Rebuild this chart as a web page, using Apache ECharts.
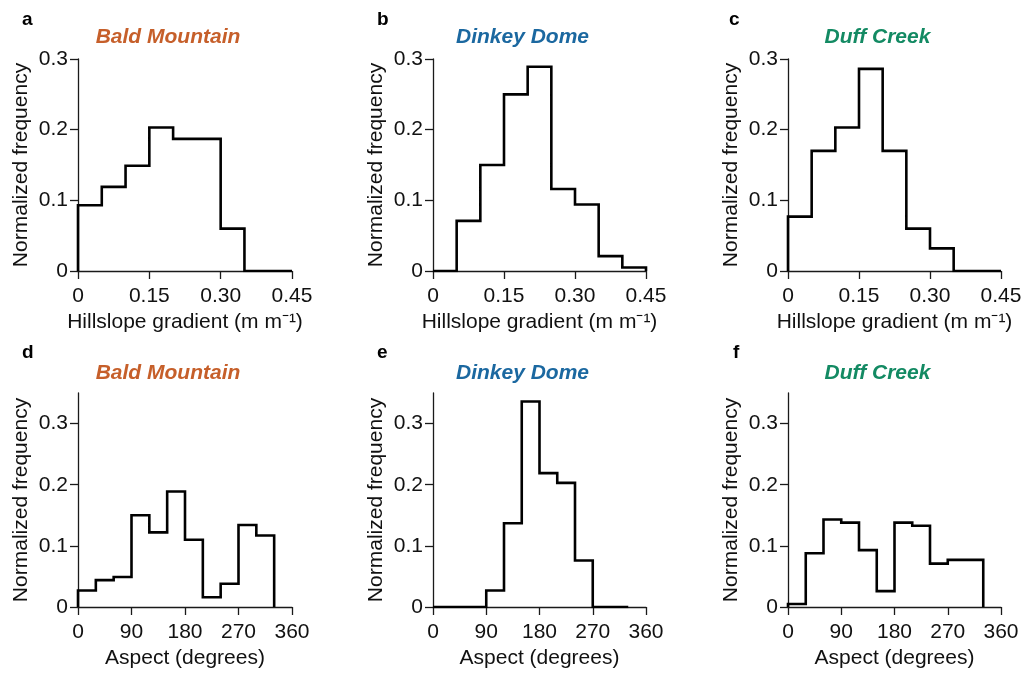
<!DOCTYPE html>
<html>
<head>
<meta charset="utf-8">
<script src="https://cdn.jsdelivr.net/npm/echarts@6/dist/echarts.min.js"></script>
<style>
html,body{margin:0;padding:0;background:#fff;}
#chart{width:1026px;height:674px;}
</style>
</head>
<body>
<div id="chart"></div>
<script>
// ---- Data ----
const sites = ['Bald Mountain', 'Dinkey Dome', 'Duff Creek'];
const panelLetters = ['a', 'b', 'c', 'd', 'e', 'f'];

// Hillslope gradient bins (m m^-1), bin edges
const gradientEdges = [0, 0.05, 0.10, 0.15, 0.20, 0.25, 0.30, 0.35, 0.40, 0.45];
const gradientTicks = [0, 0.15, 0.30, 0.45];
const baldGradient  = [0.093, 0.119, 0.149, 0.203, 0.187, 0.187, 0.060, 0, 0];
const dinkeyGradient = [0, 0.071, 0.150, 0.250, 0.289, 0.116, 0.094, 0.021, 0.005];
const duffGradient  = [0.077, 0.170, 0.203, 0.286, 0.170, 0.060, 0.032, 0, 0];

// Aspect bins (degrees), bin edges
const aspectEdges = [0, 30, 60, 90, 120, 150, 180, 210, 240, 270, 300, 330];
const aspectTicks = [0, 90, 180, 270, 360];
const baldAspect   = [0.027, 0.044, 0.049, 0.150, 0.122, 0.189, 0.110, 0.016, 0.038, 0.134, 0.117];
const dinkeyAspect = [0, 0, 0, 0.027, 0.137, 0.336, 0.219, 0.203, 0.076, 0, 0];
const duffAspect   = [0.005, 0.088, 0.143, 0.138, 0.093, 0.026, 0.138, 0.133, 0.071, 0.077, 0.077];

const topFreqTicks = [0, 0.1, 0.2, 0.3];
const bottomFreqTicks = [0, 0.1, 0.2, 0.3];

// ---- Styles ----
const FONT = "'Liberation Sans', Arial, Helvetica, sans-serif";
const siteColors = ['#c65f2a', '#1b68a0', '#138a63'];
const axisColor = '#1a1a1a';

function stairs(edges, values) {
  const pts = [[edges[0], 0]];
  for (let i = 0; i < values.length; i++) {
    pts.push([edges[i], values[i]]);
    pts.push([edges[i + 1], values[i]]);
  }
  pts.push([edges[values.length], 0]);
  return pts;
}

const lefts = [78, 433, 788];
const widths = [214, 213, 213];
const rows = [
  { top: 59, height: 212, xmax: 0.45, xint: 0.15, ymax: 0.3, yTicks: topFreqTicks, xTicks: gradientTicks,
    xName: 'Hillslope gradient (m m\u207B\u00B9)', edges: gradientEdges,
    data: [baldGradient, dinkeyGradient, duffGradient], titleY: 37, letterY: 20 },
  { top: 393, height: 214, xmax: 360, xint: 90, ymax: 0.35, yTicks: bottomFreqTicks, xTicks: aspectTicks,
    xName: 'Aspect (degrees)', edges: aspectEdges,
    data: [baldAspect, dinkeyAspect, duffAspect], titleY: 373, letterY: 353 }
];
const letterX = [[22, 377, 729], [22, 377, 733]];

const grid = [], xAxis = [], yAxis = [], series = [], graphic = [];
let idx = 0;
rows.forEach((r, ri) => {
  for (let c = 0; c < 3; c++) {
    grid.push({ left: lefts[c], top: r.top, width: widths[c], height: r.height, containLabel: false });
    xAxis.push({
      type: 'value', gridIndex: idx, min: 0, max: r.xmax, interval: r.xint,
      name: r.xName, nameLocation: 'middle', nameGap: 41,
      nameTextStyle: { fontFamily: FONT, fontSize: 21, color: '#111' },
      axisLine: { show: true, onZero: false, lineStyle: { color: axisColor, width: 1.3 } },
      axisTick: { show: true, length: 8, customValues: r.xTicks, lineStyle: { color: axisColor, width: 1.3 } },
      axisLabel: { fontFamily: FONT, fontSize: 21, color: '#111', margin: 15, customValues: r.xTicks,
        formatter: v => (ri === 0 ? (v === 0 ? '0' : v.toFixed(2)) : String(v)) },
      splitLine: { show: false }
    });
    yAxis.push({
      type: 'value', gridIndex: idx, min: 0, max: r.ymax, interval: 0.1,
      name: 'Normalized frequency', nameLocation: 'middle', nameGap: 46,
      nameTextStyle: { fontFamily: FONT, fontSize: 21, color: '#111' },
      axisLine: { show: true, lineStyle: { color: axisColor, width: 1.3 } },
      axisTick: { show: true, length: 8, customValues: r.yTicks, lineStyle: { color: axisColor, width: 1.3 } },
      axisLabel: { fontFamily: FONT, fontSize: 21, color: '#111', margin: 10, customValues: r.yTicks,
        formatter: v => (v === 0 ? '0' : (Math.round(v * 10) / 10).toString()) },
      splitLine: { show: false }
    });
    series.push({
      type: 'line', xAxisIndex: idx, yAxisIndex: idx,
      data: stairs(r.edges, r.data[c]),
      showSymbol: false, symbol: 'none', animation: false,
      lineStyle: { color: '#000', width: 2.6, join: 'miter' }
    });
    const cx = lefts[c] + widths[c] / 2 - 17;
    graphic.push({
      type: 'text', x: cx, y: r.titleY,
      style: { text: sites[c], fill: siteColors[c], textAlign: 'center', textVerticalAlign: 'middle',
        font: "italic bold 21px " + FONT }
    });
    graphic.push({
      type: 'text', x: letterX[ri][c], y: r.letterY,
      style: { text: panelLetters[idx], fill: '#000', textAlign: 'left', textVerticalAlign: 'middle',
        font: "bold 19px " + FONT }
    });
    idx++;
  }
});

const chart = echarts.init(document.getElementById('chart'), null, { renderer: 'canvas' });
chart.setOption({
  backgroundColor: '#fff',
  animation: false,
  grid, xAxis, yAxis, series, graphic
});
</script>
</body>
</html>
